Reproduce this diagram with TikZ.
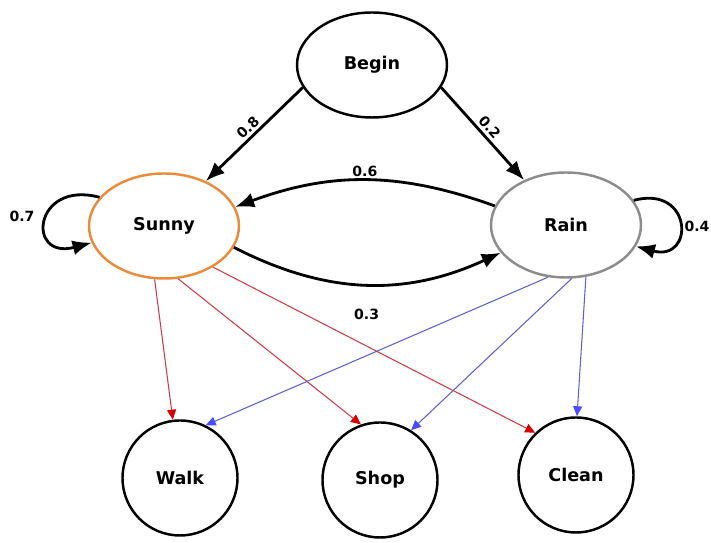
\documentclass[tikz,border=0pt]{standalone}
\usepackage{fontspec}
\setmainfont{DejaVu Sans}
\usepackage{tikz}
\usetikzlibrary{shapes.geometric, arrows.meta}

\definecolor{sunny_orange}{RGB}{232,140,60}
\definecolor{rain_gray}{RGB}{140,140,140}
\definecolor{emit_red}{RGB}{205,60,70}
\definecolor{emit_blue}{RGB}{95,95,205}

\begin{document}
\begin{tikzpicture}[
        hidden/.style={draw, ellipse, line width=1.4pt, minimum width=3.0cm, minimum height=2.1cm,
            font=\bfseries\fontsize{10}{12}\selectfont},
        obs/.style={draw, circle, line width=1.4pt, minimum size=2.3cm,
            font=\bfseries\fontsize{10}{12}\selectfont},
        trans/.style={line width=1.6pt, -{Latex[length=0.38cm, width=0.3cm]}},
        emit_s/.style={emit_red, line width=0.6pt, -{Triangle[length=0.2cm, width=0.18cm, color=red!85!black]}},
        emit_r/.style={emit_blue, line width=0.6pt, -{Triangle[length=0.2cm, width=0.18cm, color=blue!70!white]}},
        prob/.style={font=\bfseries\fontsize{8}{10}\selectfont, inner sep=1.5pt}
    ]
        \useasboundingbox (0, 0) rectangle (14.22, 10.86);

        % Hidden states
        \node[hidden] (begin) at (7.44, 9.56) {Begin};
        \node[hidden, draw=sunny_orange] (sunny) at (3.28, 6.34) {Sunny};
        \node[hidden, draw=rain_gray] (rain) at (11.32, 6.36) {Rain};

        % Observations
        \node[obs] (walk) at (3.6, 1.3) {Walk};
        \node[obs] (shop) at (7.6, 1.26) {Shop};
        \node[obs] (clean) at (11.52, 1.36) {Clean};

        % Start probabilities
        \draw[trans] (begin.198) -- node[prob, sloped, above] {0.8} (sunny.47);
        \draw[trans] (begin.342) -- node[prob, sloped, above] {0.2} (rain.133);

        % Transitions between states
        \draw[trans] (rain.165) to[bend right=20] node[prob, above] {0.6} (sunny.15);
        \draw[trans] (sunny.343) to[bend right=26] node[prob, below=0.42cm] {0.3} (rain.203);
        \draw[trans] (sunny.156) to[out=165, in=195, looseness=3.8] (sunny.193);
        \draw[trans] (rain.20) to[out=15, in=-15, looseness=3.4] (rain.-17);
        \node[prob] (p_sunny) at (0.44, 6.54) {0.7};
        \node[prob] (p_rain) at (13.94, 6.34) {0.4};

        % Emissions from Sunny
        \draw[emit_s] (sunny.260) -- (walk.97);
        \draw[emit_s] (sunny.285) -- (shop.109);
        \draw[emit_s] (sunny.320) -- (clean.134);

        % Emissions from Rain
        \draw[emit_r] (rain.251) -- (walk.64);
        \draw[emit_r] (rain.276) -- (shop.58);
        \draw[emit_r] (rain.291) -- (clean.89);
      \end{tikzpicture}
\end{document}
